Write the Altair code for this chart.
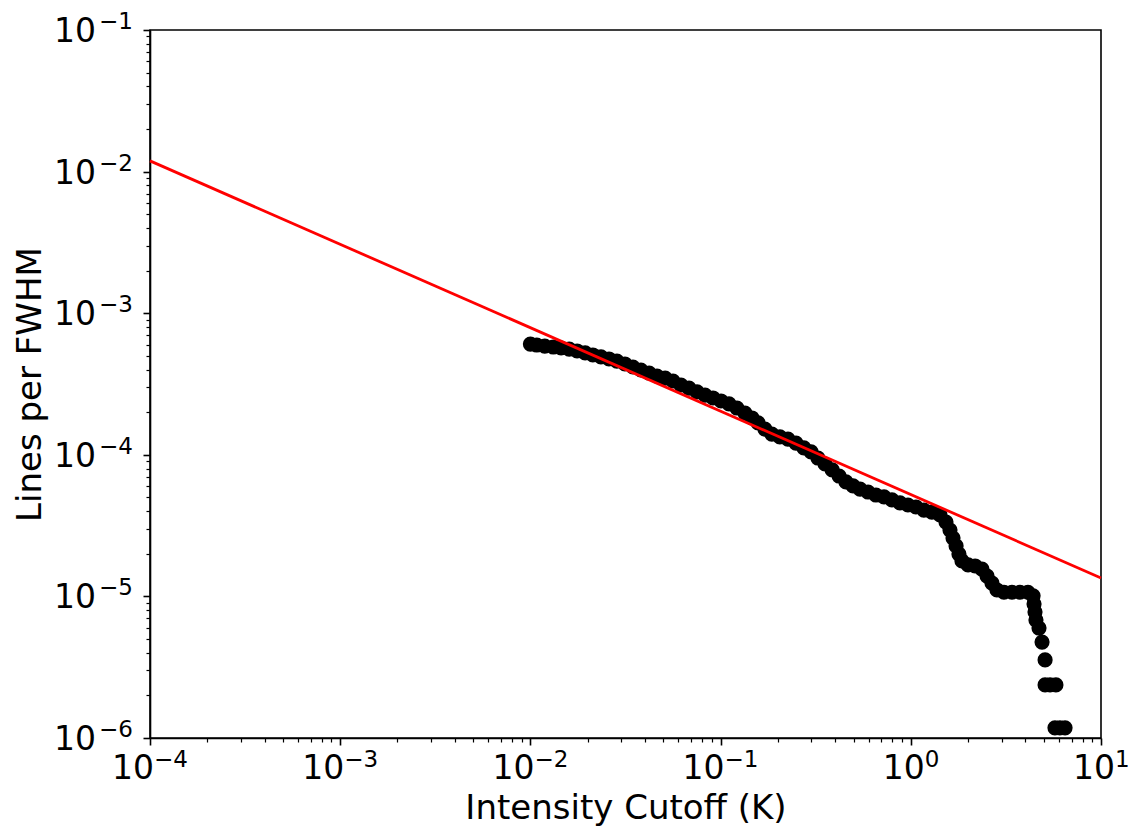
import math
import altair as alt
import pandas as pd

# ---- data ----
cutoff_K = [0.0100, 0.0108, 0.0119, 0.0132, 0.0145, 0.0160, 0.0176, 0.0194, 0.0213, 0.0235,
            0.0259, 0.0285, 0.0314, 0.0346, 0.0381, 0.0421, 0.0463, 0.0511, 0.0562, 0.0619,
            0.0682, 0.0752, 0.0828, 0.0912, 0.1005, 0.1107, 0.1219, 0.1343, 0.1462, 0.1574,
            0.171, 0.186, 0.205, 0.226, 0.249, 0.274, 0.299, 0.325, 0.354, 0.386,
            0.420, 0.456, 0.497, 0.541, 0.596, 0.656, 0.723, 0.796, 0.877, 0.966,
            1.064, 1.172, 1.291, 1.424, 1.531, 1.607, 1.667, 1.730, 1.791, 1.858,
            2.000, 2.178, 2.366, 2.518, 2.673, 2.838, 3.090, 3.404, 3.750, 4.130,
            4.395, 4.446, 4.498, 4.550, 4.721, 4.898, 5.082, 5.082, 5.395, 5.794,
            5.728, 6.081, 6.471]
lines_per_fwhm = [6.05e-4, 5.96e-4, 5.86e-4, 5.77e-4, 5.68e-4, 5.58e-4, 5.41e-4, 5.24e-4, 5.07e-4, 4.91e-4,
                  4.75e-4, 4.59e-4, 4.38e-4, 4.17e-4, 3.97e-4, 3.78e-4, 3.60e-4, 3.48e-4, 3.32e-4, 3.11e-4,
                  2.96e-4, 2.78e-4, 2.64e-4, 2.52e-4, 2.40e-4, 2.29e-4, 2.14e-4, 1.97e-4, 1.82e-4, 1.68e-4,
                  1.52e-4, 1.40e-4, 1.34e-4, 1.29e-4, 1.21e-4, 1.12e-4, 1.05e-4, 9.49e-5, 8.61e-5, 7.82e-5,
                  7.08e-5, 6.43e-5, 6.03e-5, 5.73e-5, 5.46e-5, 5.20e-5, 5.04e-5, 4.80e-5, 4.57e-5, 4.42e-5,
                  4.28e-5, 4.07e-5, 3.94e-5, 3.76e-5, 3.35e-5, 2.94e-5, 2.58e-5, 2.27e-5, 1.99e-5, 1.78e-5,
                  1.67e-5, 1.64e-5, 1.56e-5, 1.39e-5, 1.24e-5, 1.11e-5, 1.07e-5, 1.07e-5, 1.07e-5, 1.07e-5,
                  1.01e-5, 8.83e-6, 7.76e-6, 6.81e-6, 5.98e-6, 4.76e-6, 3.56e-6, 2.37e-6, 2.37e-6, 2.37e-6,
                  1.18e-6, 1.18e-6, 1.18e-6]

fit_x = [1e-4, 10.0]
fit_y = [1.19e-2, 1.35e-5]

# tick labels: base "10" with a superscript exponent
x_major = [1e-4, 1e-3, 1e-2, 1e-1, 1e0, 1e1]
x_major_exp = ["−4", "−3", "−2", "−1", "0", "1"]
y_major = [1e-6, 1e-5, 1e-4, 1e-3, 1e-2, 1e-1]
y_major_exp = ["−6", "−5", "−4", "−3", "−2", "−1"]
x_minor = [m * 10.0 ** e for e in range(-4, 1) for m in range(2, 10)]
y_minor = [m * 10.0 ** e for e in range(-6, -1) for m in range(2, 10)]

FONT = "DejaVu Sans"
BASE_SIZE = 33
EXP_SIZE = 23

pts = pd.DataFrame({"cutoff": cutoff_K, "lines": lines_per_fwhm})
fit = pd.DataFrame({"x": fit_x, "y": fit_y})
xlab = pd.DataFrame({"v": x_major, "base": ["10"] * len(x_major), "exp": x_major_exp,
                     "neg": [e.startswith("−") for e in x_major_exp]})
ylab = pd.DataFrame({"v": y_major, "base": ["10"] * len(y_major), "exp": y_major_exp})

xs = alt.Scale(type="log", domain=[1e-4, 10], nice=False)
ys = alt.Scale(type="log", domain=[1e-6, 0.1], nice=False)

common = dict(grid=False, domainColor="black", tickColor="black",
              titleColor="black", titleFont=FONT)

x_major_axis = alt.Axis(values=x_major, labels=False, orient="bottom", tickSize=7,
                        tickWidth=1.6, domainWidth=1.6,
                        titleFontSize=34, titleFontWeight="normal", titleY=80,
                        titleBaseline="alphabetic", **common)
y_major_axis = alt.Axis(values=y_major, labels=False, orient="left", tickSize=7,
                        tickWidth=1.6, domainWidth=1.6,
                        titleFontSize=34, titleFontWeight="normal", titleX=-110,
                        titleBaseline="alphabetic", **common)
x_minor_axis = alt.Axis(values=x_minor, labels=False, orient="bottom", tickSize=4,
                        tickWidth=1.2, domain=False, grid=False, tickColor="black", title="")
y_minor_axis = alt.Axis(values=y_minor, labels=False, orient="left", tickSize=4,
                        tickWidth=1.2, domain=False, grid=False, tickColor="black", title="")

points = alt.Chart(pts).mark_circle(size=230, color="black", opacity=1).encode(
    x=alt.X("cutoff:Q", scale=xs, axis=x_major_axis, title="Intensity Cutoff (K)"),
    y=alt.Y("lines:Q", scale=ys, axis=y_major_axis, title="Lines per FWHM"),
)

line = alt.Chart(fit).mark_line(color="#ff0000", strokeWidth=2.8).encode(
    x=alt.X("x:Q", scale=xs, axis=x_minor_axis),
    y=alt.Y("y:Q", scale=ys, axis=y_minor_axis),
)

# x tick labels (each label centred as a whole under its tick)
xl = alt.Chart(xlab)
xbase_neg = xl.transform_filter("datum.neg").mark_text(
    font=FONT, fontSize=BASE_SIZE, align="right", baseline="alphabetic", dx=4, color="black"
).encode(x=alt.X("v:Q", scale=xs, axis=None), y=alt.value(749), text="base:N")
xexp_neg = xl.transform_filter("datum.neg").mark_text(
    font=FONT, fontSize=EXP_SIZE, align="left", baseline="alphabetic", dx=4, color="black"
).encode(x=alt.X("v:Q", scale=xs, axis=None), y=alt.value(737), text="exp:N")
xbase_pos = xl.transform_filter("!datum.neg").mark_text(
    font=FONT, fontSize=BASE_SIZE, align="right", baseline="alphabetic", dx=14, color="black"
).encode(x=alt.X("v:Q", scale=xs, axis=None), y=alt.value(749), text="base:N")
xexp_pos = xl.transform_filter("!datum.neg").mark_text(
    font=FONT, fontSize=EXP_SIZE, align="left", baseline="alphabetic", dx=14, color="black"
).encode(x=alt.X("v:Q", scale=xs, axis=None), y=alt.value(737), text="exp:N")

# y tick labels
yl = alt.Chart(ylab)
ybase = yl.mark_text(
    font=FONT, fontSize=BASE_SIZE, align="right", baseline="alphabetic", dy=12, color="black"
).encode(y=alt.Y("v:Q", scale=ys, axis=None), x=alt.value(-54), text="base:N")
yexp = yl.mark_text(
    font=FONT, fontSize=EXP_SIZE, align="right", baseline="alphabetic", dy=-1, color="black"
).encode(y=alt.Y("v:Q", scale=ys, axis=None), x=alt.value(-17), text="exp:N")

chart = alt.layer(points, line, xbase_neg, xexp_neg, xbase_pos, xexp_pos, ybase, yexp).resolve_axis(
    x="independent", y="independent"
).properties(
    width=951,
    height=708,
    autosize=alt.AutoSizeParams(type="none"),
    padding={"left": 150, "top": 30, "right": 29, "bottom": 89},
    background="white",
).configure_view(stroke="black", strokeWidth=1.6)

chart.save("out.html", embed_options={"renderer": "svg", "actions": False})
